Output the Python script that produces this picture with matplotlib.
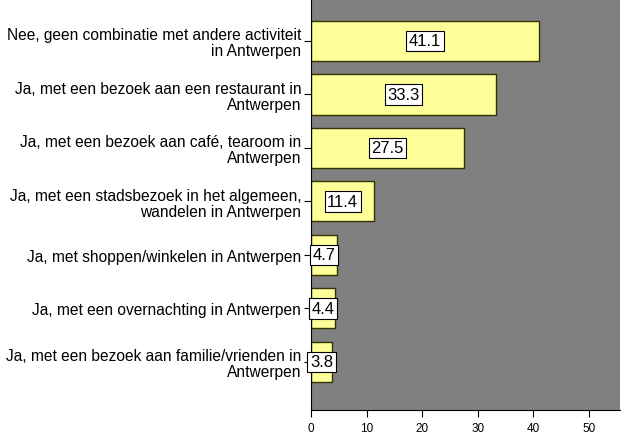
import matplotlib.pyplot as plt

categories = [
    "Nee, geen combinatie met andere activiteit\nin Antwerpen",
    "Ja, met een bezoek aan een restaurant in\nAntwerpen",
    "Ja, met een bezoek aan café, tearoom in\nAntwerpen",
    "Ja, met een stadsbezoek in het algemeen,\nwandelen in Antwerpen",
    "Ja, met shoppen/winkelen in Antwerpen",
    "Ja, met een overnachting in Antwerpen",
    "Ja, met een bezoek aan familie/vrienden in\nAntwerpen",
]
values = [41.1, 33.3, 27.5, 11.4, 4.7, 4.4, 3.8]
xticks = [0, 10, 20, 30, 40, 50]

plt.rcParams['font.family'] = ['Liberation Sans', 'DejaVu Sans']

fig = plt.figure(figsize=(6.29, 4.39), dpi=100)
ax = fig.add_axes([311 / 629, 28 / 439, 309 / 629, 411 / 439])
ax.set_facecolor('#808080')

pos = list(range(len(values)))
ax.barh(pos, values, height=0.75, color='#FFFF99', edgecolor='#333300', linewidth=1)

for p, v in zip(pos, values):
    ax.text(v / 2, p, "%.1f" % v, ha='center', va='center', fontsize=12,
            bbox=dict(boxstyle='square,pad=0.16', fc='white', ec='black', lw=0.8))

ax.set_xlim(0, 55.6)
ax.set_ylim(6.9, -0.785)
ax.set_xticks(xticks)
ax.set_yticks(pos)
ax.set_yticklabels(categories, fontsize=11.2, linespacing=1.08)
ax.tick_params(axis='x', labelsize=8.5, length=5, color='black')
ax.tick_params(axis='y', length=5, color='black', pad=2)
for s in ['top', 'right']:
    ax.spines[s].set_visible(False)
ax.spines['left'].set_color('black')
ax.spines['bottom'].set_color('black')

fig.savefig('out.png', dpi=100)
